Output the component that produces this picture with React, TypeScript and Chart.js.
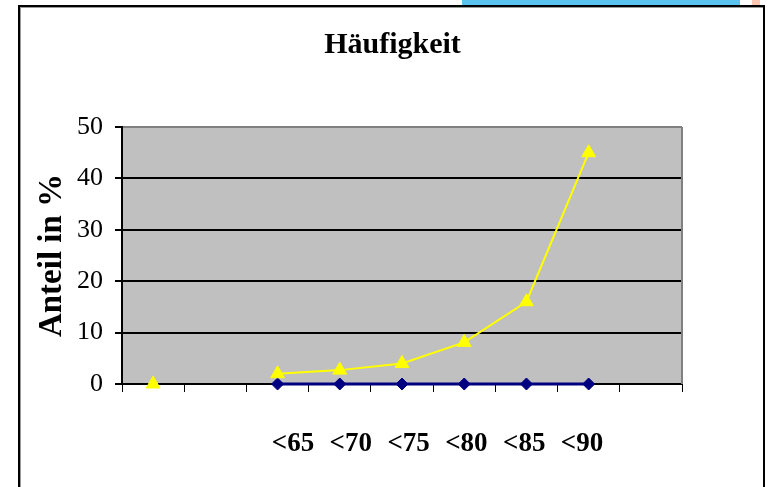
import React, { useEffect, useRef } from "react";
import { Chart, registerables } from "chart.js";

Chart.register(...registerables);

// category slots on the x axis (9 slots, labels drawn on a separate label axis)
const categories = ["", "", "<65", "<70", "<75", "<80", "<85", "<90", ""];
const tickLabels = ["<65", "<70", "<75", "<80", "<85", "<90"];
const yellowSeries = [0, null, 2, 2.7, 4, 8.1, 16, 45, null];
const blueSeries = [null, null, 0, 0, 0, 0, 0, 0, null];
const yTicks = [0, 10, 20, 30, 40, 50];

const SERIF = "'Liberation Serif', 'Times New Roman', serif";

const plotBg = {
  id: "plotBg",
  beforeDraw(chart: any) {
    const { ctx, chartArea: a } = chart;
    ctx.save();
    ctx.fillStyle = "#C0C0C0";
    ctx.fillRect(a.left, a.top, a.right - a.left, a.bottom - a.top);
    ctx.restore();
  },
  beforeDatasetsDraw(chart: any) {
    const { ctx, chartArea: a } = chart;
    ctx.save();
    ctx.strokeStyle = "#808080";
    ctx.lineWidth = 2;
    ctx.beginPath();
    ctx.moveTo(a.right, a.top);
    ctx.lineTo(a.right, a.bottom);
    ctx.stroke();
    ctx.restore();
  },
};

export default function App() {
  const ref = useRef<HTMLCanvasElement>(null);

  useEffect(() => {
    if (!ref.current) return;
    const chart = new Chart(ref.current, {
      type: "line",
      data: {
        labels: categories,
        datasets: [
          {
            label: "yellow",
            data: yellowSeries,
            borderColor: "#FFFF00",
            backgroundColor: "#FFFF00",
            borderWidth: 2,
            pointStyle: "triangle",
            pointRadius: 8,
            pointBorderWidth: 1,
            pointBorderColor: "#FFFF00",
            spanGaps: false,
            clip: false,
            order: 1,
          },
          {
            label: "blue",
            data: blueSeries,
            borderColor: "#000080",
            backgroundColor: "#000080",
            borderWidth: 3,
            pointStyle: "rectRot",
            pointRadius: 6,
            pointBorderWidth: 1,
            pointBorderColor: "#000080",
            clip: false,
            order: 2,
          },
        ],
      },
      options: {
        animation: false,
        responsive: false,
        layout: { padding: { left: 20, right: 4, top: 0, bottom: 0 } },
        plugins: {
          legend: { display: false },
          tooltip: { enabled: false },
          title: {
            display: true,
            text: "Häufigkeit",
            color: "#000",
            font: { family: SERIF, size: 30, weight: "bold" },
            padding: { top: 27, bottom: 64 },
          },
        },
        scales: {
          x: {
            type: "category",
            position: "bottom",
            offset: true,
            weight: 0,
            grid: {
              offset: true,
              drawOnChartArea: false,
              color: "#000",
              lineWidth: 1,
              tickLength: 8,
            },
            border: { display: true, color: "#000", width: 2 },
            ticks: { display: false },
            afterFit: (s: any) => {
              s.height = 8;
            },
          },
          x2: {
            type: "linear",
            position: "bottom",
            weight: 1,
            min: -2.958,
            max: 6.73,
            grid: { display: false },
            border: { display: false },
            ticks: {
              stepSize: 1,
              padding: 28,
              color: "#000",
              font: { family: SERIF, size: 27, weight: "bold" },
              maxRotation: 0,
              autoSkip: false,
              callback: (v: any) => {
                const n = Number(v);
                return Number.isInteger(n) && n >= 0 && n < tickLabels.length ? tickLabels[n] : "";
              },
            },
            afterFit: (s: any) => {
              s.height = 95;
            },
          },
          y: {
            type: "linear",
            position: "left",
            min: 0,
            max: 50,
            afterBuildTicks: (s: any) => {
              s.ticks = yTicks.map((v) => ({ value: v }));
            },
            grid: {
              color: (c: any) => (c.tick && c.tick.value === 50 ? "#808080" : "#000"),
              lineWidth: 2,
              tickLength: 7,
              tickColor: "#000",
            },
            border: { display: true, color: "#000", width: 2 },
            ticks: {
              padding: 12,
              color: "#000",
              font: { family: SERIF, size: 26 },
            },
            title: {
              display: true,
              text: "Anteil in %",
              color: "#000",
              font: { family: SERIF, size: 33, weight: "bold" },
              padding: { top: 13, bottom: 0 },
            },
            afterFit: (s: any) => {
              s.width = 102;
            },
          },
          yr: {
            type: "linear",
            position: "right",
            display: true,
            grid: { display: false },
            border: { display: false },
            ticks: { display: false },
            afterFit: (s: any) => {
              s.width = 83;
            },
          },
        },
      },
      plugins: [plotBg],
    });
    return () => chart.destroy();
  }, []);

  return (
    <div style={{ position: "fixed", left: 0, top: 0, width: 769, height: 487, background: "#fff", overflow: "hidden" }}>
      <div style={{ position: "absolute", left: 462, top: 0, width: 278, height: 5, background: "#5BC3F0" }} />
      <div style={{ position: "absolute", left: 752, top: 0, width: 8, height: 5, background: "#FFC8B4" }} />
      <div
        style={{
          position: "absolute",
          left: 18,
          top: 5,
          width: 747,
          height: 600,
          boxSizing: "border-box",
          border: "2px solid #000",
          boxShadow: "inset 1px 1px 0 #999",
        }}
      />
      <canvas ref={ref} width={769} height={487} style={{ position: "absolute", left: 0, top: 0, width: 769, height: 487 }} />
    </div>
  );
}
